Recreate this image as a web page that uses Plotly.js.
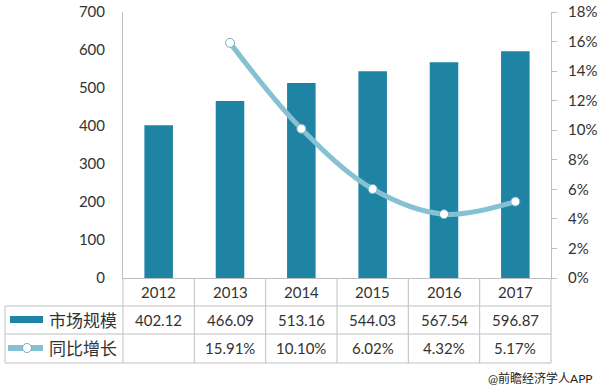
<!DOCTYPE html>
<html>
<head>
<meta charset="utf-8">
<script src="https://cdn.plot.ly/plotly-3.0.1.min.js"></script>
<style>
  html, body { margin: 0; padding: 0; background: #fff; }
  #chart { width: 600px; height: 389px; }
</style>
</head>
<body>
<div id="chart"></div>
<script>
// ---- data ----
const years = ['2012', '2013', '2014', '2015', '2016', '2017'];
const marketSize = [402.12, 466.09, 513.16, 544.03, 567.54, 596.87];
const growth = [null, 15.91, 10.10, 6.02, 4.32, 5.17];
const seriesNames = ['市场规模', '同比增长'];
const leftTicks = [0, 100, 200, 300, 400, 500, 600, 700];
const rightTicks = [0, 2, 4, 6, 8, 10, 12, 14, 16, 18];
const sourceNote = '@前瞻经济学人APP';

// ---- layout helpers (pixel -> paper) ----
const W = 600, H = 389;
const L = 123, R = 551, T = 12, B = 278;
const px = x => (x - L) / (R - L);
const py = y => (B - y) / (B - T);

const FONT = 'Lato, "Noto Sans CJK SC", sans-serif';
const TXT = '#333333';
const GRID = '#bfbfbf';
const BAR = '#1f84a3';
const LINE = '#86c1d3';

const traces = [
  {
    type: 'bar', x: years, y: marketSize, name: seriesNames[0],
    marker: { color: BAR }, width: 0.4, yaxis: 'y', hoverinfo: 'x+y'
  },
  {
    type: 'scatter', mode: 'lines+markers', x: years, y: growth, name: seriesNames[1],
    yaxis: 'y2', connectgaps: false,
    line: { color: LINE, width: 5, shape: 'spline', smoothing: 1 },
    marker: { color: '#ffffff', size: 9, line: { color: '#6fafc3', width: 1 } }
  }
];

const shapes = [];
const lineStyle = { color: GRID, width: 1 };
// horizontal table lines
[306, 334, 363].forEach(y => shapes.push({
  type: 'line', xref: 'paper', yref: 'paper', x0: px(5), x1: 1, y0: py(y), y1: py(y), line: lineStyle
}));
// left border of label column
shapes.push({ type: 'line', xref: 'paper', yref: 'paper', x0: px(5), x1: px(5), y0: py(306), y1: py(363), line: lineStyle });
// column boundaries
for (let k = 0; k <= years.length; k++) {
  shapes.push({ type: 'line', xref: 'paper', yref: 'paper', x0: k / years.length, x1: k / years.length,
    y0: 0, y1: py(363), line: lineStyle });
}
// legend icon: bar
shapes.push({ type: 'rect', xref: 'paper', yref: 'paper', x0: px(10), x1: px(43), y0: py(323), y1: py(316),
  fillcolor: BAR, line: { width: 0 } });
// legend icon: line + marker
shapes.push({ type: 'line', xref: 'paper', yref: 'paper', x0: px(8), x1: px(43), y0: py(348), y1: py(348),
  line: { color: LINE, width: 6 } });
shapes.push({ type: 'circle', xref: 'paper', yref: 'paper', x0: px(22.5), x1: px(31.5), y0: py(352.5), y1: py(343.5),
  fillcolor: '#ffffff', line: { color: '#6fafc3', width: 1 } });

const annotations = [];
const cellFont = { family: FONT, size: 15, color: TXT };
years.forEach((yr, i) => {
  annotations.push({ xref: 'x', yref: 'paper', x: i, y: py(292), text: yr, showarrow: false,
    xanchor: 'center', yanchor: 'middle', font: cellFont });
  annotations.push({ xref: 'x', yref: 'paper', x: i, y: py(320), text: marketSize[i].toFixed(2), showarrow: false,
    xanchor: 'center', yanchor: 'middle', font: cellFont });
  if (growth[i] !== null) {
    annotations.push({ xref: 'x', yref: 'paper', x: i, y: py(348), text: growth[i].toFixed(2) + '%', showarrow: false,
      xanchor: 'center', yanchor: 'middle', font: cellFont });
  }
});
annotations.push({ xref: 'paper', yref: 'paper', x: px(47), y: py(320), text: seriesNames[0], showarrow: false,
  xanchor: 'left', yanchor: 'middle', font: { family: FONT, size: 17, color: TXT } });
annotations.push({ xref: 'paper', yref: 'paper', x: px(47), y: py(348), text: seriesNames[1], showarrow: false,
  xanchor: 'left', yanchor: 'middle', font: { family: FONT, size: 17, color: TXT } });
annotations.push({ xref: 'paper', yref: 'paper', x: px(595), y: py(378), text: sourceNote, showarrow: false,
  xanchor: 'right', yanchor: 'middle', font: { family: FONT, size: 12, color: '#222' } });

const layout = {
  width: W, height: H,
  margin: { l: L, r: W - R, t: T, b: H - B, pad: 0 },
  paper_bgcolor: '#ffffff', plot_bgcolor: '#ffffff',
  showlegend: false,
  font: { family: FONT, size: 15, color: TXT },
  xaxis: {
    type: 'category', range: [-0.5, years.length - 0.5], autorange: false,
    showline: true, linecolor: GRID, linewidth: 1,
    showticklabels: false, ticks: '', showgrid: false, zeroline: false
  },
  yaxis: {
    range: [0, 700], autorange: false, tickvals: leftTicks, showline: true, linecolor: GRID, linewidth: 1,
    ticks: '', showgrid: false, zeroline: false, ticklabelstandoff: 14,
    tickfont: { family: FONT, size: 15, color: TXT }
  },
  yaxis2: {
    range: [0, 18], autorange: false, tickvals: rightTicks, ticktext: rightTicks.map(v => v + '%'),
    overlaying: 'y', side: 'right', showline: true, linecolor: GRID, linewidth: 1,
    ticks: 'outside', ticklen: 5, tickcolor: GRID, showgrid: false, zeroline: false,
    ticklabelstandoff: 8,
    tickfont: { family: FONT, size: 15, color: TXT }
  },
  shapes: shapes,
  annotations: annotations
};

Plotly.newPlot('chart', traces, layout, { staticPlot: true, displayModeBar: false });
</script>
</body>
</html>
